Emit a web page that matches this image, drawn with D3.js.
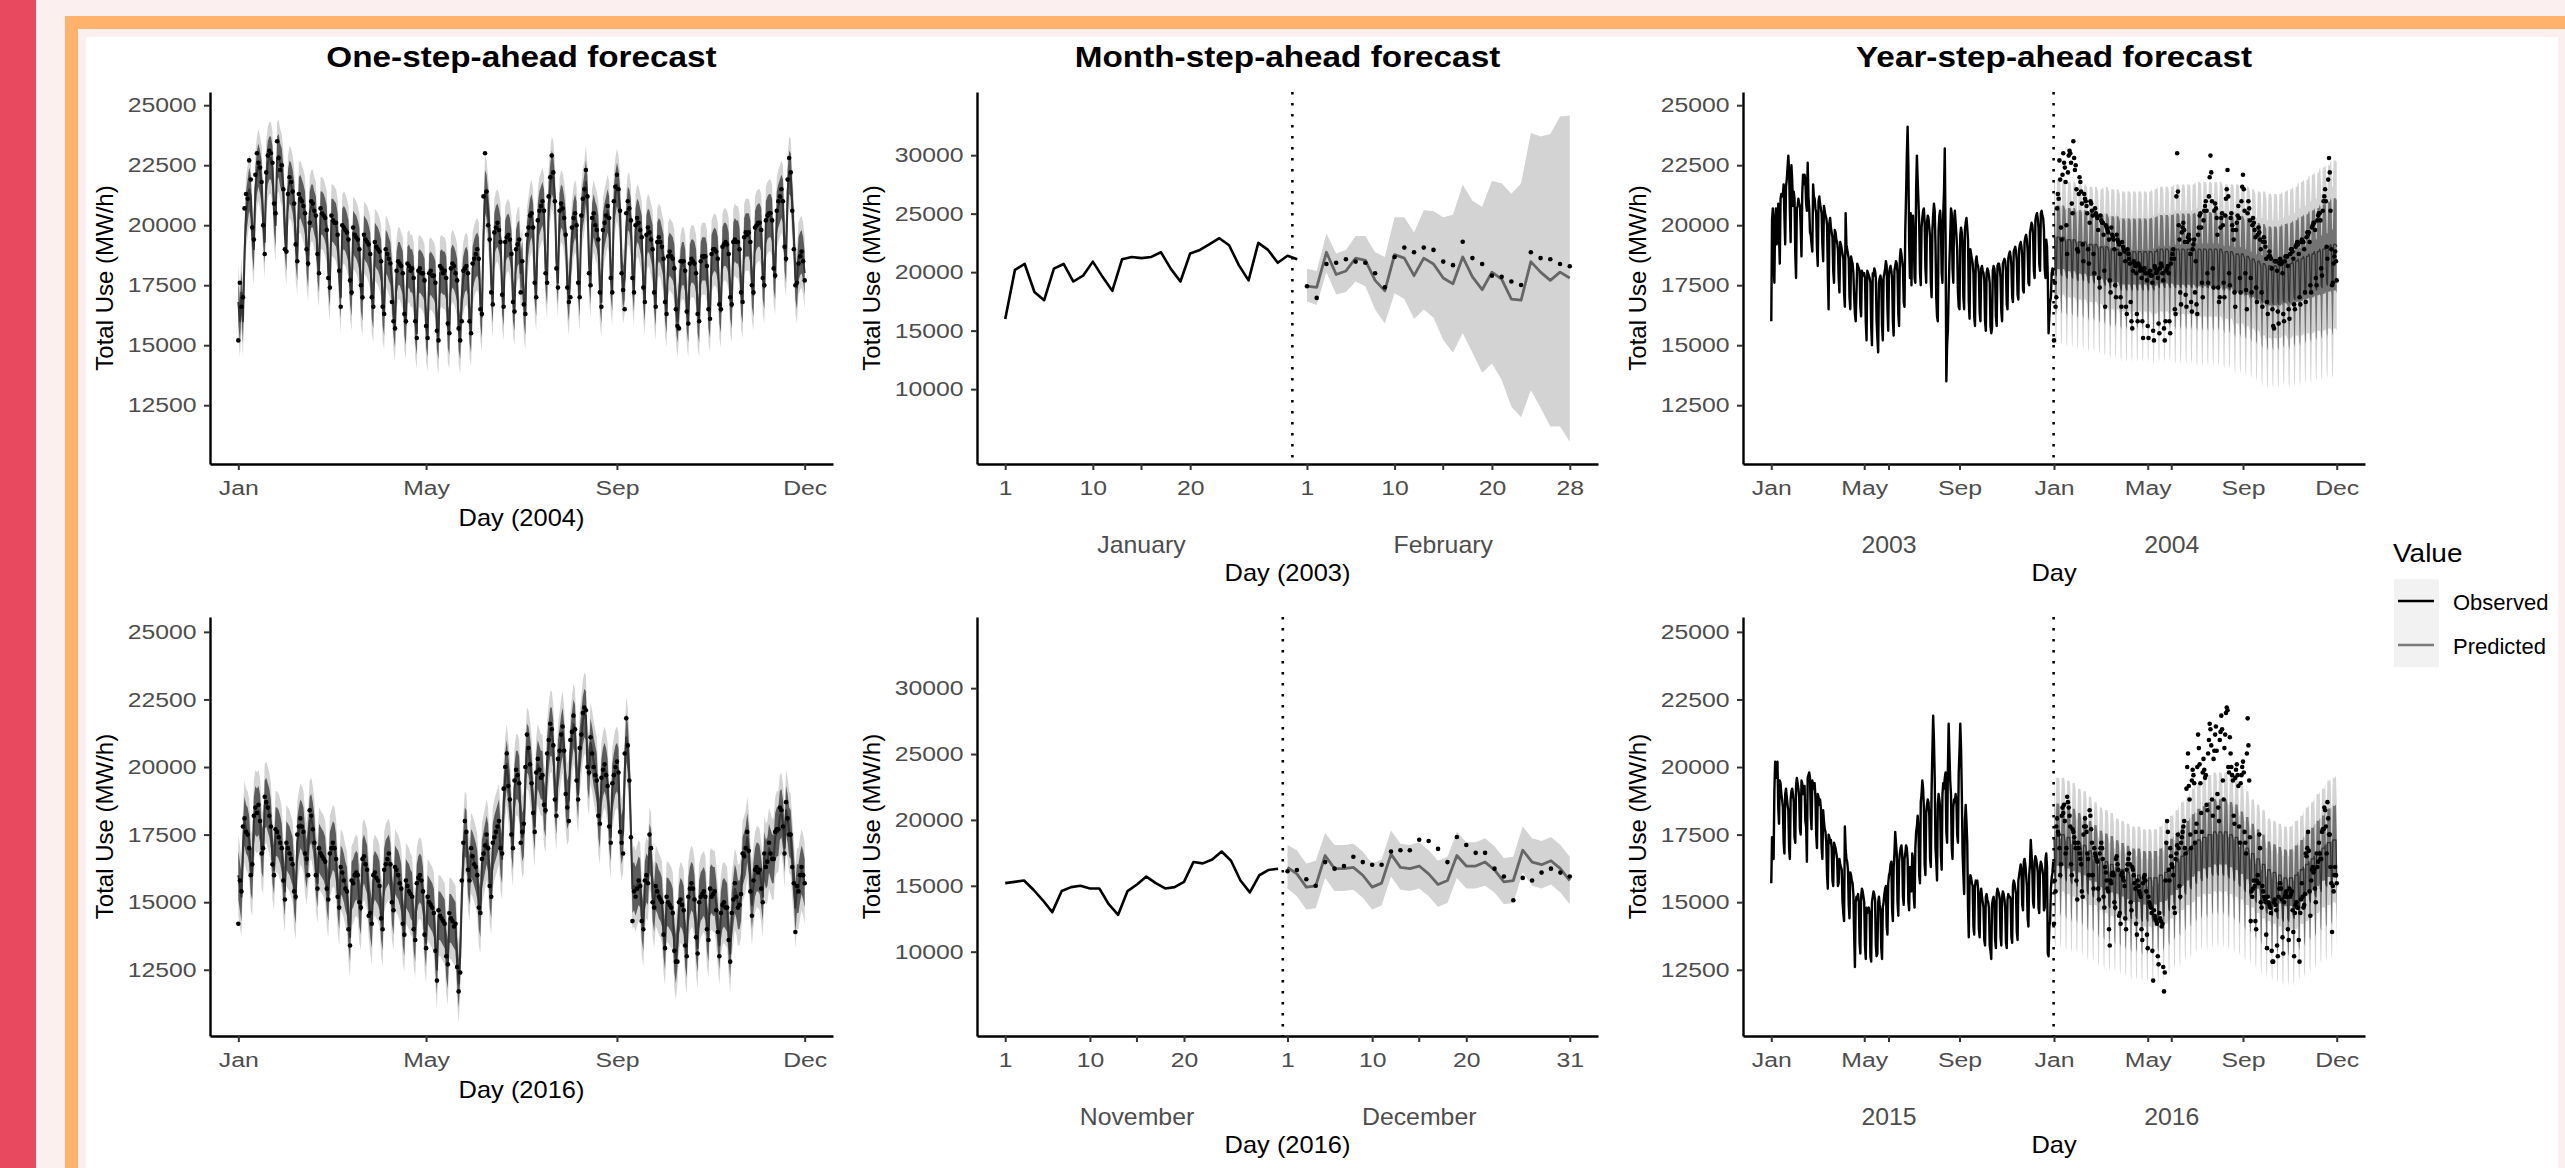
<!DOCTYPE html>
<html>
<head>
<meta charset="utf-8">
<script src="https://cdn.jsdelivr.net/npm/d3@7"></script>
<style>
  body { margin: 0; width: 2565px; height: 1168px; overflow: hidden; background: #fcefef; position: relative; }
  #strip { position: absolute; left: 0; top: 0; width: 36px; height: 1168px; background: #e8495e; }
  #frame { position: absolute; left: 65px; top: 16px; width: 2600px; height: 1300px; border: 13px solid #ffb26b; background: #fcefef; }
  #chart { position: absolute; left: 0; top: 0; }
</style>
</head>
<body>
<div id="strip"></div>
<div id="frame"></div>
<svg id="chart" width="2565" height="1168"></svg>
<script>
// all load values are in hundreds of MW/h

// daily observed 2003 (Jan 1 = Wed), month by month
const obs2003 = [
  160,202,207,183,176,203,207,192,197,209,196,184,211,213,212,213,217,203,192,216,219,224,229,223,206,193,225,219,208,214,211,
  188,178,207,208,211,209,208,199,187,213,221,217,221,219,209,206,226,212,207,197,196,192,189,217,212,211,207,205,
  190,183,210,212,209,207,205,192,185,208,206,204,203,200,180,165,201,203,199,197,195,181,176,198,197,194,193,190,178,172,193,
  192,190,188,186,172,166,205,192,190,188,186,170,165,187,185,184,180,170,163,160,172,184,183,182,181,166,162,181,180,179,
  180,178,160,152,181,180,179,178,176,158,150,180,179,182,181,178,160,153,147,176,178,179,177,158,152,178,180,182,185,183,165,
  156,180,182,183,181,178,160,154,181,183,185,184,180,163,158,186,190,188,185,182,168,166,198,212,229,241,225,192,178,205,
  175,200,204,195,178,176,215,229,219,210,200,180,175,199,203,206,207,201,182,176,201,204,203,199,195,176,170,198,204,209,206,
  192,170,162,160,198,204,206,201,180,176,205,214,232,196,135,150,156,172,185,195,207,205,182,176,202,206,201,196,190,172,166,
  165,196,199,197,192,170,165,198,201,203,199,194,168,161,190,188,186,184,180,162,158,185,187,184,183,180,164,160,182,183,
  181,180,177,160,156,180,182,181,179,176,158,155,157,181,183,182,178,162,158,183,184,184,182,178,164,160,184,185,186,185,181,
  167,165,186,188,189,187,183,170,168,189,190,191,189,185,171,169,190,192,193,191,187,173,172,193,195,196,194,189,176,175,
  197,199,201,200,196,181,178,202,204,205,203,199,184,181,205,206,204,203,198,182,178,194,191,178,155,162,168,170,180,182,179
];

// daily observed 2004 (Jan 1 = Thu), one row per week
const obs2004 = [
  152,176,166,170,207,213,211, 227,219,199,194,221,230,226, 224,218,200,188,222,229,231, 230,226,209,205,235,228,223,
  225,215,190,189,213,220,218, 214,209,192,185,213,211,210, 208,205,190,184,201,210,209, 206,204,188,180,207,205,204,
  203,198,178,174,204,202,201, 201,196,181,166,200,199,198, 197,194,177,172,199,196,195, 194,190,175,170,196,194,193,
  192,188,170,166,193,191,190, 189,185,166,163,190,188,186, 184,168,160,157,181,185,184, 183,180,163,160,184,183,181,
  182,178,160,153,181,182,180, 180,177,158,153,180,181,179, 179,176,156,152,183,182,180, 181,178,159,155,182,184,183,
  180,177,157,152,160,181,182, 183,180,160,155,184,186,188, 190,186,165,163,212,230,214, 200,194,172,167,197,199,201,
  198,193,171,166,193,195,196, 194,188,168,164,190,192,194, 172,185,167,163,196,199,204, 205,199,176,170,202,206,208,
  210,206,180,176,212,220,229, 222,210,182,174,206,209,207, 203,196,174,168,170,199,203, 205,200,176,170,204,211,215,
  223,212,180,175,203,205,200, 198,194,172,166,198,201,204, 208,203,178,172,210,216,221, 215,206,180,173,165,205,210,
  207,202,178,172,200,203,201, 198,195,174,168,196,199,197, 194,190,172,166,193,195,193, 191,186,168,163,187,189,187,
  186,182,165,158,157,185,185, 185,181,164,159,184,186,185, 184,180,163,160,185,187,187, 187,183,165,161,188,190,190,
  189,186,167,165,191,192,193, 192,188,170,167,193,194,193, 193,190,172,168,195,197,196, 197,193,175,172,199,200,201,
  201,198,178,175,202,204,205, 205,202,182,179,206,210,212, 215,210,191,186,219,228,222, 206,190,175,176,184,187,189,
  185,177
];

// one-step-ahead predicted 2004
const pred1Step2004 = [
  168,160,172,160,188,205,210, 215,212,196,190,215,222,225, 222,218,201,193,220,226,228, 228,224,206,200,228,229,225,
  223,216,196,190,214,218,217, 214,209,192,186,211,212,210, 208,205,189,183,205,208,208, 205,203,186,181,205,205,204,
  202,199,181,175,202,202,201, 200,196,179,170,198,199,198, 196,193,176,171,197,196,195, 193,190,173,169,195,194,193,
  191,188,170,166,192,191,190, 188,185,167,163,189,188,186, 184,176,163,158,180,184,184, 182,180,163,159,182,183,181,
  181,178,160,155,180,181,180, 179,177,158,154,179,180,179, 178,176,157,153,180,181,180, 180,178,158,155,181,183,182,
  180,177,157,153,170,178,181, 182,180,160,156,182,185,187, 188,186,167,162,196,214,212, 205,197,176,168,196,199,200,
  198,194,172,167,193,195,196, 194,189,169,165,189,192,193, 180,184,168,163,192,197,202, 204,200,177,171,200,205,207,
  209,206,182,176,209,216,222, 220,212,185,176,204,208,207, 203,197,176,169,182,195,201, 204,201,178,171,202,208,212,
  218,211,184,176,200,204,201, 199,195,174,168,196,200,203, 206,203,179,173,207,213,217, 214,207,182,174,178,198,207,
  206,202,180,173,198,202,201, 198,195,175,169,195,198,197, 194,191,173,167,192,194,193, 190,187,169,164,186,188,187,
  186,183,166,160,168,181,184, 184,181,165,160,183,185,185, 184,181,164,160,184,186,186, 186,183,166,162,187,189,190,
  189,186,168,164,190,192,192, 191,188,170,166,192,194,193, 193,190,172,168,194,196,196, 196,193,175,171,197,199,200,
  200,198,178,174,201,203,204, 204,202,182,178,205,208,210, 212,210,190,185,214,222,221, 208,196,178,174,186,188,189,
  186,180
];

// daily observed 2015 (Jan 1 = Thu), one row per week
const obs2015 = [
  157,174,168,166,191,202,196, 198,202,185,179,195,194,190, 188,185,172,168,190,192,189, 186,184,170,166,188,191,192,
  190,187,174,172,193,196,194, 192,189,177,175,195,194,190, 191,193,180,178,165,196,197, 198,196,182,177,195,193,192,
  194,189,175,170,190,189,186, 188,185,170,166,184,180,177, 176,172,160,155,175,174,172, 173,170,158,156,172,171,170,
  168,166,156,157,166,164,163, 162,150,146,143,178,170,166, 165,162,149,144,161,160,158, 157,153,138,126,150,152,151,
  153,150,135,131,152,155,154, 152,150,134,129,148,146,147, 148,146,130,128,150,152,154, 153,151,134,130,131,150,152,
  149,147,133,129,148,150,153, 155,156,141,138,157,160,161, 164,165,147,143,163,168,176, 172,168,150,145,165,168,170,
  171,168,152,149,166,168,171, 170,166,150,147,163,162,154, 168,166,152,148,170,176,178, 182,177,160,157,187,190,195,
  192,185,164,160,183,186,188, 187,182,166,163,192,206,219, 210,196,170,165,158,186,190, 188,185,167,162,190,194,192,
  196,198,176,172,199,216,205, 195,190,170,166,185,188,187, 190,188,175,172,198,206,216, 207,190,168,160,153,180,186,
  180,172,148,137,158,160,159, 157,156,141,138,156,158,157, 158,155,140,137,153,155,152, 150,148,136,134,152,153,151,
  150,148,134,132,129,149,151, 152,150,136,133,153,155,154, 153,151,137,134,152,154,153, 151,148,135,133,151,153,152,
  152,151,137,135,156,158,157, 155,153,139,136,158,160,162, 164,162,149,147,165,166,164, 160,156,144,141,160,164,173,
  168,162,150,148,165,167,166, 164,161,148,146,163,165,164, 162,160,147,148,166,168,163, 131,130,141,143,155,159,161,
  165
];

// daily observed 2016 (Jan 1 = Fri): weekly rows to Oct 31, then November and December
const obs2016 = [
  142,158,154,178,181,176,175, 170,160,164,182,185,183,186, 180,168,170,189,187,185,182, 178,164,160,177,176,174,172,
  170,158,151,172,170,168,166, 164,154,152,175,178,181,178, 176,168,166,160,184,182,177, 172,160,155,170,168,167,166,
  165,155,151,168,170,172,170, 166,152,148,163,161,158,155, 154,140,134,158,157,160,161, 160,150,148,166,167,164,162,
  145,146,142,160,161,159,158, 156,144,140,162,164,166,168, 164,150,147,163,162,160,157, 155,142,138,158,156,154,153,
  152,140,136,157,159,160,158, 154,138,133,152,150,149,148, 146,132,121,147,145,144,143, 142,130,127,146,144,143,141,
  142,126,117,124,158,172,180, 176,162,158,170,167,164,163, 160,148,146,166,168,171,175, 170,156,152,172,174,176,178,
  180,170,168,192,200,205,193, 188,175,170,195,199,197,194, 172,176,179,200,212,207,201, 194,183,176,198,203,199,196,
  197,186,184,205,210,216,214, 208,188,182,203,206,212,215, 206,190,185,180,210,213,219, 214,195,188,207,212,220,222,
  221,200,198,211,205,200,197, 195,182,179,196,199,201,197, 193,178,172,194,197,200,202, 198,176,172,168,205,218,208,
  195,174,143,154,152,155,158, 156,143,140,158,160,157,175, 170,150,148,156,154,152,151, 150,138,133,152,150,149,148,
  146,132,128,128,150,151,149, 147,134,130,152,155,157,155, 151,137,131,150,152,153,154, 152,140,136,155,
  152,153,154,147,139,130,146,149,150,148,148,136,128,146,151,157,152,148,149,153,168,167,170,176,169,154,145,158,162,163,
  161,162,155,150,168,163,165,172,168,166,166,176,177,177,185,184,178,168,187,181,175,175,163,157,139,156,154,160,163,160,157
];

// one-step-ahead predicted 2016
const pred1Step2016 = [
  160,156,152,170,180,177,176, 173,162,160,180,184,183,184, 181,170,168,186,187,185,183, 179,166,162,176,176,175,173,
  170,159,154,171,170,169,167, 165,155,151,172,176,179,178, 176,168,164,170,180,181,178, 173,162,157,170,169,168,167,
  165,156,152,167,169,171,170, 166,154,149,162,161,159,156, 154,143,137,156,157,159,160, 159,150,147,164,166,164,162,
  152,146,142,158,160,159,158, 156,145,141,161,164,165,166, 163,151,147,162,161,160,158, 155,143,139,157,156,155,153,
  152,141,137,155,158,159,158, 154,140,135,151,150,149,148, 146,134,125,145,145,144,143, 142,131,127,144,144,143,142,
  141,128,120,130,152,167,176, 175,162,158,168,167,165,163, 160,149,146,164,167,170,173, 170,157,153,170,173,175,177,
  179,169,166,187,196,201,195, 189,176,171,192,197,197,195, 180,174,176,196,207,206,202, 196,184,178,196,201,199,197,
  197,186,183,202,208,213,213, 208,190,184,201,205,210,213, 207,191,186,188,205,211,216, 214,196,190,205,211,217,220,
  219,201,197,209,206,202,199, 196,183,179,194,198,200,198, 194,179,174,192,196,199,200, 198,178,173,176,198,211,207,
  197,177,155,156,154,156,158, 157,145,141,156,159,158,170, 168,152,148,156,155,153,152, 150,139,134,150,150,149,148,
  146,133,129,135,147,150,149, 147,135,131,150,154,156,155, 151,138,133,149,152,153,154, 152,141,137,154,
  155,154,154,149,141,134,145,149,150,149,148,138,131,145,150,155,153,149,149,152,165,167,169,174,169,157,149,156,161,163,
  163,162,157,152,167,164,165,170,168,166,166,174,176,176,182,183,179,170,184,181,176,175,166,159,148,155,155,159,162,160,157
];
// interval half-widths of the one-step forecast (95% and 80%)
const oneStepHalf95 = 15;
const oneStepHalf80 = 9;

// month-step-ahead forecasts: February 2003 and December 2016
const febPred2003 = [188,187,217,198,201,212,210,193,184,215,212,197,212,207,195,190,213,196,185,200,194,177,176,209,200,193,200,195];
const febLo2003 = [175,172,200,181,183,192,188,168,156,182,177,160,168,161,142,131,148,131,114,122,108,85,76,99,84,68,68,55];
const febHi2003 = [203,201,233,216,219,231,231,217,213,247,247,234,253,252,247,249,275,261,256,278,276,267,276,319,316,318,333,334];
const decPred2016 = [164,159,149,150,173,163,163,164,158,149,152,174,164,163,165,159,151,154,173,165,165,168,162,153,154,177,168,166,169,163,154];
const decLo2016 = [148,142,132,133,156,146,146,147,141,132,135,157,147,146,148,142,134,137,156,148,148,150,145,136,137,160,150,148,151,145,136];
const decHi2016 = [181,177,167,169,190,181,181,182,176,167,170,192,182,181,183,177,169,172,191,183,183,186,180,171,172,195,186,184,187,181,172];

// year-step-ahead forecasts: weekly level and weekly 95% half-width
const ysLevel2004 = [187,187,186,186,185, 185,184,184,183, 183,182,182,181, 181,181,181,181,181, 181,182,182,182, 182,182,182,182,
  182,182,182,182,182, 181,181,180,180, 179,178,177,176, 175,175,175,176,176, 177,178,179,180, 181,182,183,184,184];
const ysHalf2004 = [24,24,24,24,24, 24,24,24,24, 25,25,25,25, 25,25,25,25,25, 26,26,26,26, 27,27,27,27,
  28,28,28,28,28, 28,28,29,29, 29,29,29,30, 30,30,30,30,31, 31,32,32,33, 33,34,34,35,35];
const ysLevel2016 = [167,167,166,165,164, 163,161,160,158, 157,156,155,154, 153,152,152,151,151, 151,152,153,155, 157,159,161,163,
  165,166,167,168,168, 168,167,166,164, 162,160,158,156, 154,153,152,151,151, 152,154,156,158, 160,162,164,165,166];
const ysHalf2016 = [21,21,21,21,20, 20,20,19,19, 19,19,18,18, 18,18,18,18,18, 18,18,19,19, 19,20,20,21,
  21,21,22,22,22, 22,22,22,21, 21,20,20,20, 19,19,19,19,19, 20,20,21,21, 22,22,23,23,24];
// weekday effect on level and on half-width, Sun..Sat
const ysDowShift = [-8, 8, 8, 8, 8, 7, -7];
const ysDowHalf = [5, 0, 0, 0, 0, 0, 4];
// 80% half-width as a share of the 95% half-width
const ys80Share = 0.55;

// axis ticks
const yTicksYear = [12500, 15000, 17500, 20000, 22500, 25000];
const yTicksMonth = [10000, 15000, 20000, 25000, 30000];
const oneYearTicks = [0, 121, 244, 365];
const oneYearLabels = ['Jan', 'May', 'Sep', 'Dec'];
const twoYearTicks = [0, 120, 243, 365, 486, 609, 730];
const twoYearLabels = ['Jan', 'May', 'Sep', 'Jan', 'May', 'Sep', 'Dec'];
const twoYearGroups = [152, 517];
const febTicks = [0, 9, 19, 31, 40, 50, 58];
const febLabels = ['1', '10', '20', '1', '10', '20', '28'];
const febGroups = [14, 45];
const decTicks = [0, 9, 19, 30, 39, 49, 60];
const decLabels = ['1', '10', '20', '1', '10', '20', '31'];
const decGroups = [14, 44];

const FONT = '"Liberation Sans", Arial, Helvetica, sans-serif';
const BAND = '#d3d3d3';
const BAND80 = '#5c5c5c';
const BAND80_YEAR = '#737373';
const PRED = '#666666';
const PRED_DENSE = '#333333';
const TICK_SX = 1.18;

const svg = d3.select('#chart').attr('font-family', FONT);
svg.append('rect').attr('x', 86).attr('y', 37).attr('width', 2472).attr('height', 1140).attr('fill', '#fff');

const cols = { left: [210, 833], mid: [977, 1598], right: [1743, 2365] };
const rows = { top: [92, 464], bottom: [617, 1036] };

function label(g, x, y, str, o) {
  return g.append('text')
    .attr('transform', `translate(${x},${y}) scale(${o.sx || 1},1)`)
    .attr('text-anchor', o.anchor || 'middle')
    .attr('font-size', o.size)
    .attr('font-weight', o.weight || 400)
    .attr('fill', o.fill || '#000')
    .text(str);
}

function axes(g, x, y, o) {
  const x0 = x.range()[0], y0 = y.range()[0];
  const gy = g.append('g').attr('transform', `translate(${x0},0)`)
    .call(d3.axisLeft(y).tickValues(o.yTicks).tickSize(6).tickSizeOuter(0).tickFormat(d => d));
  const gx = g.append('g').attr('transform', `translate(0,${y0})`)
    .call(d3.axisBottom(x).tickValues(o.xTicks).tickSize(6).tickSizeOuter(0).tickPadding(10)
      .tickFormat((d, i) => o.xLabels[i]));
  [gy, gx].forEach(a => {
    a.attr('font-family', FONT).attr('font-size', 21);
    a.select('.domain').attr('stroke', '#000').attr('stroke-width', 2.4);
    a.selectAll('.tick line').attr('stroke', '#333').attr('stroke-width', 2);
    a.selectAll('.tick text').attr('fill', '#4d4d4d').attr('transform', `scale(${TICK_SX},1)`);
  });
  gy.selectAll('.tick text').attr('x', -13.5 / TICK_SX);

  const cx = (x.range()[0] + x.range()[1]) / 2;
  const cy = (y.range()[0] + y.range()[1]) / 2;
  if (o.groups) {
    gx.selectAll('.group').data(o.groups).join('line')
      .attr('x1', d => x(d)).attr('x2', d => x(d)).attr('y1', 0).attr('y2', 6)
      .attr('stroke', '#333').attr('stroke-width', 2);
    o.groups.forEach((d, i) => label(g, x(d), y0 + 89, o.groupLabels[i], { size: 23, sx: 1.08, fill: '#4d4d4d' }));
  }
  label(g, cx, y0 + (o.groups ? 117 : 62), o.xTitle, { size: 24, sx: 1.06 });
  g.append('text')
    .attr('transform', `translate(${x0 - 105},${cy}) rotate(-90)`)
    .attr('dy', '0.35em').attr('text-anchor', 'middle').attr('font-size', 24)
    .text('Total Use (MW/h)');
  if (o.title) label(g, cx, 67, o.title, { size: 30, weight: 700, sx: 1.11 });
}

function ribbon(g, data, x, y, lo, hi, fill) {
  g.append('path').datum(data).attr('fill', fill)
    .attr('d', d3.area().x(d => x(d.i)).y0(d => y(d[lo])).y1(d => y(d[hi])));
}

function line(g, data, x, y, key, stroke, width) {
  g.append('path').datum(data).attr('fill', 'none').attr('stroke', stroke).attr('stroke-width', width)
    .attr('stroke-linejoin', 'round')
    .attr('d', d3.line().x(d => x(d.i)).y(d => y(d[key])));
}

function vline(g, x, y, v) {
  g.append('line').attr('x1', x(v)).attr('x2', x(v)).attr('y1', y.range()[1]).attr('y2', y.range()[0])
    .attr('stroke', '#000').attr('stroke-width', 2.6).attr('stroke-dasharray', '2.6 8.4');
}

function dots(g, data, x, y) {
  g.append('g').selectAll('circle').data(data).join('circle')
    .attr('cx', d => x(d.i)).attr('cy', d => y(d.o)).attr('r', 2.3).attr('fill', '#000');
}

function oneStep(row, obs, pred, xTitle, title) {
  const g = svg.append('g');
  const x = d3.scaleLinear().domain([-18.25, 383.25]).range(cols.left);
  const y = d3.scaleLinear().domain([10050, 25550]).range([row[1], row[0]]);
  const days = pred.map((p, i) => ({
    i, p: p * 100, o: obs[i] * 100,
    lo: (p - oneStepHalf95) * 100, hi: (p + oneStepHalf95) * 100,
    lo80: (p - oneStepHalf80) * 100, hi80: (p + oneStepHalf80) * 100
  }));
  ribbon(g, days, x, y, 'lo', 'hi', BAND);
  ribbon(g, days, x, y, 'lo80', 'hi80', BAND80);
  line(g, days, x, y, 'p', PRED_DENSE, 2);
  dots(g, days, x, y);
  axes(g, x, y, { yTicks: yTicksYear, xTicks: oneYearTicks, xLabels: oneYearLabels, xTitle, title });
}

function monthStep(row, before, after, pred, lo, hi, ticks, labels, groups, groupLabels, xTitle, title) {
  const g = svg.append('g');
  const n = before.length + after.length;
  const x = d3.scaleLinear().domain([-0.05 * (n - 1), 1.05 * (n - 1)]).range(cols.mid);
  const y = d3.scaleLinear().domain([3600, 35400]).range([row[1], row[0]]);
  const past = before.map((v, i) => ({ i, o: v * 100 }));
  const fc = after.map((v, k) => ({ i: before.length + k, o: v * 100, p: pred[k] * 100, lo: lo[k] * 100, hi: hi[k] * 100 }));
  ribbon(g, fc, x, y, 'lo', 'hi', BAND);
  line(g, fc, x, y, 'p', PRED, 2.8);
  line(g, past, x, y, 'o', '#000', 2.6);
  dots(g, fc, x, y);
  vline(g, x, y, 29.5);
  axes(g, x, y, { yTicks: yTicksMonth, xTicks: ticks, xLabels: labels, groups, groupLabels, xTitle, title });
}

function yearStep(row, prev, obs, levels, halves, start, groupLabels, title) {
  const g = svg.append('g');
  const x = d3.scaleLinear().domain([-36.5, 766.5]).range(cols.right);
  const y = d3.scaleLinear().domain([10050, 25550]).range([row[1], row[0]]);
  const past = prev.map((v, i) => ({ i, o: v * 100 }));
  const fc = obs.map((v, k) => {
    const dow = d3.timeDay.offset(start, k).getDay();
    const w = Math.floor(k / 7);
    const p = levels[w] + ysDowShift[dow];
    const h = halves[w] + ysDowHalf[dow];
    return {
      i: prev.length + k, o: v * 100, p: p * 100,
      lo: (p - h) * 100, hi: (p + h) * 100,
      lo80: (p - h * ys80Share) * 100, hi80: (p + h * ys80Share) * 100
    };
  });
  ribbon(g, fc, x, y, 'lo', 'hi', BAND);
  ribbon(g, fc, x, y, 'lo80', 'hi80', BAND80_YEAR);
  line(g, fc, x, y, 'p', PRED_DENSE, 1.3);
  line(g, past, x, y, 'o', '#000', 2.4);
  dots(g, fc, x, y);
  vline(g, x, y, prev.length - 0.5);
  axes(g, x, y, { yTicks: yTicksYear, xTicks: twoYearTicks, xLabels: twoYearLabels, groups: twoYearGroups, groupLabels, xTitle: 'Day', title });
}

oneStep(rows.top, obs2004, pred1Step2004, 'Day (2004)', 'One-step-ahead forecast');
oneStep(rows.bottom, obs2016, pred1Step2016, 'Day (2016)');
monthStep(rows.top, obs2003.slice(0, 31), obs2003.slice(31, 59), febPred2003, febLo2003, febHi2003,
  febTicks, febLabels, febGroups, ['January', 'February'], 'Day (2003)', 'Month-step-ahead forecast');
monthStep(rows.bottom, obs2016.slice(305, 335), obs2016.slice(335), decPred2016, decLo2016, decHi2016,
  decTicks, decLabels, decGroups, ['November', 'December'], 'Day (2016)');
yearStep(rows.top, obs2003, obs2004, ysLevel2004, ysHalf2004, new Date(2004, 0, 1), ['2003', '2004'], 'Year-step-ahead forecast');
yearStep(rows.bottom, obs2015, obs2016, ysLevel2016, ysHalf2016, new Date(2016, 0, 1), ['2015', '2016']);

// legend
const series = ['Observed', 'Predicted'];
const seriesColor = ['#000', '#7a7a7a'];
const lg = svg.append('g');
label(lg, 2393, 562, 'Value', { size: 25, sx: 1.12, anchor: 'start' });
lg.append('rect').attr('x', 2394).attr('y', 579).attr('width', 45).attr('height', 88).attr('fill', '#f2f2f2');
series.forEach((s, i) => {
  const ky = 601 + i * 44;
  lg.append('line').attr('x1', 2398).attr('x2', 2434).attr('y1', ky).attr('y2', ky)
    .attr('stroke', seriesColor[i]).attr('stroke-width', 2.4);
  label(lg, 2453, ky + 9, s, { size: 22, anchor: 'start' });
});
</script>
</body>
</html>
